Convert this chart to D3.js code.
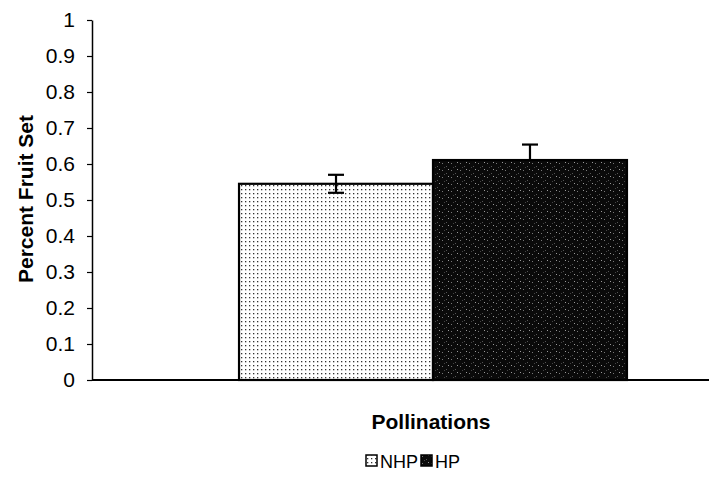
<!DOCTYPE html>
<html>
<head>
<meta charset="utf-8">
<script src="https://cdn.jsdelivr.net/npm/d3@7"></script>
<style>
  body { margin: 0; background: #fff; }
  svg text { font-family: "Liberation Sans", Arial, sans-serif; }
</style>
</head>
<body>
<div id="chart"></div>
<script>
var categories = ["Pollinations"];
var series = ["NHP", "HP"];
var values = [0.545, 0.611];
var errors = [0.025, 0.043];
var yTicks = [0, 0.1, 0.2, 0.3, 0.4, 0.5, 0.6, 0.7, 0.8, 0.9, 1];

var width = 709, height = 490;
var margin = {top: 20, right: -65, bottom: 110, left: 92};

var svg = d3.select("#chart").append("svg")
    .attr("width", width)
    .attr("height", height);

var defs = svg.append("defs");

// dotted fill for NHP
var dots = defs.append("pattern")
    .attr("id", "dots")
    .attr("patternUnits", "userSpaceOnUse")
    .attr("width", 4).attr("height", 4);
dots.append("rect").attr("width", 4).attr("height", 4).attr("fill", "#fff");
dots.append("rect").attr("x", 1).attr("y", 1).attr("width", 1.3).attr("height", 1.3).attr("fill", "#333");

// dark speckled fill for HP
var speck = defs.append("pattern")
    .attr("id", "speck")
    .attr("patternUnits", "userSpaceOnUse")
    .attr("width", 9).attr("height", 7);
speck.append("rect").attr("width", 9).attr("height", 7).attr("fill", "#0a0a0a");
[[1, 2, "#777"], [5, 5, "#555"], [7, 1, "#999"], [3, 6, "#444"]].forEach(function(p) {
  speck.append("rect").attr("x", p[0]).attr("y", p[1]).attr("width", 1).attr("height", 1).attr("fill", p[2]);
});

var fills = {NHP: "url(#dots)", HP: "url(#speck)"};

var x0 = d3.scaleBand()
    .domain(categories)
    .range([margin.left, width - margin.right])
    .paddingInner(0)
    .paddingOuter(0.379);

var x1 = d3.scaleBand()
    .domain(series)
    .range([0, x0.bandwidth()])
    .padding(0);

var y = d3.scaleLinear()
    .domain([0, 1])
    .range([height - margin.bottom, margin.top]);

var cx = function(d) { return x0(categories[0]) + x1(d.name) + x1.bandwidth() / 2; };

var g = svg.append("g");

var bars = series.map(function(s, i) {
  return {name: s, value: values[i], err: errors[i]};
});

g.selectAll("rect.bar")
    .data(bars)
    .enter().append("rect")
    .attr("class", "bar")
    .attr("x", function(d) { return x0(categories[0]) + x1(d.name); })
    .attr("y", function(d) { return y(d.value); })
    .attr("width", x1.bandwidth())
    .attr("height", function(d) { return y(0) - y(d.value); })
    .attr("fill", function(d) { return fills[d.name]; })
    .attr("stroke", "#000")
    .attr("stroke-width", 2.2);

// error bars (HP lower half is hidden by the dark bar)
var eb = g.selectAll("g.err")
    .data(bars)
    .enter().append("g")
    .attr("class", "err")
    .attr("stroke", "#000")
    .attr("stroke-width", 2.2);

eb.append("line")
    .attr("x1", cx).attr("x2", cx)
    .attr("y1", function(d) { return y(d.value + d.err); })
    .attr("y2", function(d) { return y(d.name === "HP" ? d.value : d.value - d.err); });

eb.append("line")
    .attr("x1", function(d) { return cx(d) - 8; })
    .attr("x2", function(d) { return cx(d) + 8; })
    .attr("y1", function(d) { return y(d.value + d.err); })
    .attr("y2", function(d) { return y(d.value + d.err); });

eb.filter(function(d) { return d.name !== "HP"; })
  .append("line")
    .attr("x1", function(d) { return cx(d) - 8; })
    .attr("x2", function(d) { return cx(d) + 8; })
    .attr("y1", function(d) { return y(d.value - d.err); })
    .attr("y2", function(d) { return y(d.value - d.err); });

// y axis
var yAxis = svg.append("g")
    .attr("transform", "translate(" + margin.left + ",0)")
    .call(d3.axisLeft(y).tickValues(yTicks).tickSize(5).tickSizeOuter(0).tickFormat(d3.format("")));
yAxis.select(".domain").attr("stroke-width", 1.5);
yAxis.selectAll(".tick line").attr("stroke-width", 1.2);
yAxis.selectAll(".tick text")
    .style("font-size", "21px")
    .attr("x", -17)
    .attr("fill", "#000");

// x axis line
svg.append("line")
    .attr("x1", margin.left)
    .attr("x2", width)
    .attr("y1", y(0))
    .attr("y2", y(0))
    .attr("stroke", "#000")
    .attr("stroke-width", 2);

// axis titles
svg.append("text")
    .attr("transform", "translate(33," + (y(0.5) - 1) + ") rotate(-90)")
    .attr("text-anchor", "middle")
    .style("font-size", "21px")
    .attr("font-weight", "bold")
    .text("Percent Fruit Set");

svg.append("text")
    .attr("x", x0(categories[0]) + x0.bandwidth() / 2 - 2)
    .attr("y", 429)
    .attr("text-anchor", "middle")
    .style("font-size", "21px")
    .attr("font-weight", "bold")
    .text("Pollinations");

// legend
var legend = svg.append("g").attr("transform", "translate(366,461)");
var lx = [0, 55];
series.forEach(function(s, i) {
  var item = legend.append("g").attr("transform", "translate(" + lx[i] + ",0)");
  item.append("rect")
      .attr("x", 0).attr("y", -6)
      .attr("width", 11).attr("height", 11)
      .attr("fill", fills[s])
      .attr("stroke", "#000")
      .attr("stroke-width", 1.5);
  item.append("text")
      .attr("x", 14)
      .attr("y", 7)
      .style("font-size", "18px")
      .text(s);
});
</script>
</body>
</html>
